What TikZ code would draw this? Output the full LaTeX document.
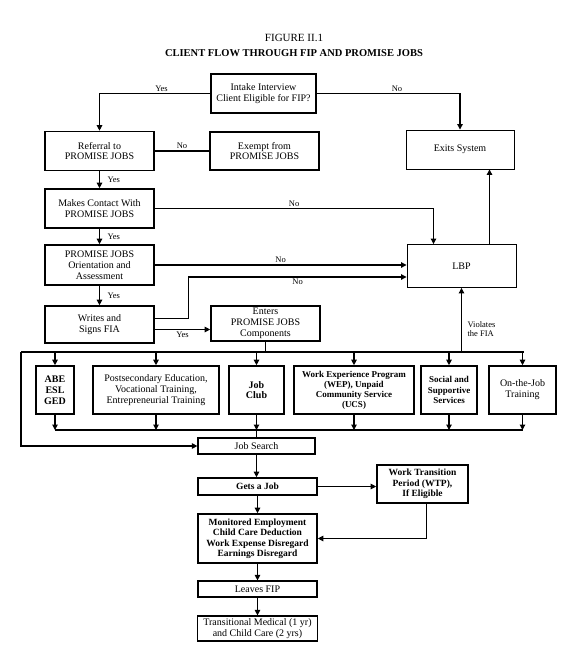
\documentclass[tikz,border=0pt]{standalone}
\usepackage{fontspec}
\setmainfont{Liberation Serif}
\usetikzlibrary{arrows.meta}
\tikzset{
	box/.style={draw, line width=1.6pt, align=center, inner sep=1pt, font=\fontsize{10}{10.8}\selectfont},
	thinbox/.style={box, line width=0.9pt},
	wh/.style 2 args={minimum width=#1pt, minimum height=#2pt},
	flow/.style={line width=1.1pt},
	arr/.style={flow, -{Triangle[length=5.5pt,width=5.5pt]}},
	lbl/.style={font=\fontsize{8.5}{9}\selectfont, inner sep=1.5pt}
}
\begin{document}
\begin{tikzpicture}[x=1pt,y=-1pt]
			\useasboundingbox (0,0) rectangle (570,656);
			\node[font=\fontsize{11}{12}\selectfont] (title) at (294,38) {FIGURE II.1};
			\node[font=\bfseries\fontsize{10.5}{12}\selectfont] (subtitle) at (294,53) {CLIENT FLOW THROUGH FIP AND PROMISE JOBS};
			\node[box, wh={105}{39}] (intake) at (263.5,93.5) {Intake Interview\\Client Eligible for FIP?};
			\node[box, wh={109}{39}] (referral) at (99.5,151) {Referral to\\PROMISE JOBS};
			\node[box, wh={109}{38}] (exempt) at (264.5,151) {Exempt from\\PROMISE JOBS};
			\node[thinbox, wh={108}{39}] (exits) at (460,149.5) {Exits System};
			\node[box, wh={109}{39}] (contact) at (99.5,208.5) {Makes Contact With\\PROMISE JOBS};
			\node[box, wh={109}{40}] (orient) at (99.5,265) {PROMISE JOBS\\Orientation and\\Assessment};
			\node[thinbox, wh={109}{43}] (lbp) at (461.5,266) {LBP};
			\node[box, wh={109}{37}] (writes) at (99.5,324.5) {Writes and\\Signs FIA};
			\node[box, wh={109}{35}] (enters) at (265.5,323.5) {Enters\\PROMISE JOBS\\Components};
			\node[box, wh={38}{48}, font=\bfseries\fontsize{10}{10.8}\selectfont] (abe) at (55,390) {ABE\\ESL\\GED};
			\node[box, wh={126}{48}] (post) at (156,390) {Postsecondary Education,\\Vocational Training,\\Entrepreneurial Training};
			\node[box, wh={55}{48}, font=\bfseries\fontsize{10}{10.8}\selectfont] (club) at (256.5,390) {Job\\Club};
			\node[box, wh={120}{48}, font=\bfseries\fontsize{9}{10}\selectfont] (wep) at (354,390) {Work Experience Program\\(WEP), Unpaid\\Community Service\\(UCS)};
			\node[box, wh={56}{48}, font=\bfseries\fontsize{9}{10.5}\selectfont] (social) at (449,390) {Social and\\Supportive\\Services};
			\node[box, wh={67}{48}] (ojt) at (522.5,390) {On-the-Job\\Training};
			\node[box, line width=1.2pt, wh={117}{16}] (search) at (256.5,446) {Job Search};
			\node[box, wh={119}{17}, font=\bfseries\fontsize{9.5}{10.5}\selectfont] (gets) at (257.5,486.5) {Gets a Job};
			\node[box, wh={91}{38}, font=\bfseries\fontsize{9.5}{10.5}\selectfont] (wtp) at (422.5,484) {Work Transition\\Period (WTP),\\If Eligible};
			\node[box, wh={119}{49}, font=\bfseries\fontsize{9.5}{10.5}\selectfont] (monitored) at (257.5,538.5) {Monitored Employment\\Child Care Deduction\\Work Expense Disregard\\Earnings Disregard};
			\node[box, line width=1.2pt, wh={119}{16}] (leaves) at (257.5,589) {Leaves FIP};
			\node[box, line width=1.2pt, wh={120}{25}] (trans) at (257.5,628.5) {Transitional Medical (1 yr)\\and Child Care (2 yrs)};
			\draw[arr] (intake.west) -| (referral.north) node[lbl, pos=0.22, above] {Yes};
			\draw[arr] (intake.east) -| (exits.north) node[lbl, pos=0.28, above] {No};
			\draw[flow] (referral.east) -- (exempt.west) node[lbl, midway, above] {No};
			\draw[arr] (referral) -- (contact) node[lbl, midway, right, xshift=6pt] {Yes};
			\draw[arr] (contact.east) -| ([xshift=-28pt]lbp.north) node[lbl, pos=0.25, above] {No};
			\draw[arr] ([xshift=28pt]lbp.north) -- ([xshift=28pt]lbp.north |- exits.south);
			\draw[arr] (contact) -- (orient) node[lbl, midway, right, xshift=6pt] {Yes};
			\draw[arr] (orient.east) -- (orient.east -| lbp.west) node[lbl, midway, above] {No};
			\draw[arr] (orient) -- (writes) node[lbl, midway, right, xshift=6pt] {Yes};
			\draw[arr] ([yshift=6pt]writes.east) -- ++(34,0) |- ([yshift=-11pt]lbp.west) node[lbl, pos=0.75, below] {No};
			\draw[arr] ([yshift=-5pt]writes.east) -- ([yshift=-5pt]writes.east -| enters.west) node[lbl, midway, below] {Yes};
			\coordinate (bl) at (21,352);
			\coordinate (br) at (524,352);
			\coordinate (bbus) at (0,430);
			\draw[flow] (bl) -- (br);
			\draw[flow] (enters.south) -- (enters.south |- bl);
			\draw[arr] (lbp.south |- bl) -- (lbp.south) node[lbl, pos=0.35, right, xshift=4pt, align=left] {Violates\\the FIA};
			\foreach \b in {abe, post, club, wep, social, ojt}{
				\draw[arr] (\b.north |- bl) -- (\b.north);
				\draw[arr] (\b.south) -- (\b.south |- bbus);
			}
			\draw[flow] (abe.south |- bbus) -- (ojt.south |- bbus);
			\draw[flow] (club.south |- bbus) -- (search.north);
			\draw[arr] (bl) |- (search.west);
			\draw[arr] (search.south) -- (search.south |- gets.north);
			\draw[arr] (gets.east) -- (gets.east -| wtp.west);
			\draw[arr] ([xshift=4pt]wtp.south) |- (monitored.east);
			\draw[arr] (gets) -- (monitored);
			\draw[arr] (monitored) -- (leaves);
			\draw[arr] (leaves) -- (trans);
		\end{tikzpicture}
\end{document}
